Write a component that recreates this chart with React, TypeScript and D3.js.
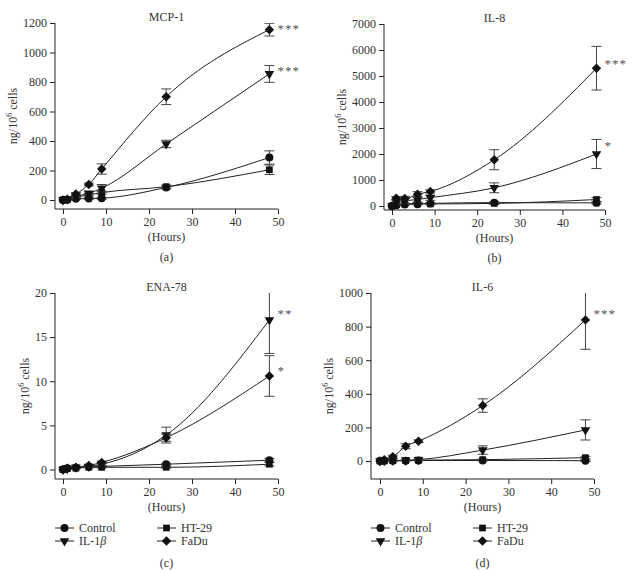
import * as d3 from 'd3';
import React, { useRef, useEffect } from 'react';

// sampling times (hours)
const hours = [0, 1, 3, 6, 9, 24, 48];
const xTicks = [0, 10, 20, 30, 40, 50];
const groups = ["Control", "IL-1", "HT-29", "FaDu"];

// MCP-1
const mcpControl = [0, 2, 8, 10, 12, 85, 288];
const mcpIl1b = [0, 5, 25, 45, 80, 380, 855];
const mcpHt29 = [0, 3, 18, 35, 50, 90, 205];
const mcpFadu = [0, 5, 40, 105, 210, 700, 1155];
const mcpControlErr = [0, 2, 4, 5, 6, 10, 45];
const mcpIl1bErr = [0, 3, 8, 10, 25, 25, 57];
const mcpHt29Err = [0, 2, 5, 8, 10, 12, 32];
const mcpFaduErr = [0, 3, 10, 10, 35, 53, 43];
const mcpTicks = [0, 200, 400, 600, 800, 1000, 1200];

// IL-8
const il8Control = [0, 30, 60, 70, 100, 130, 120];
const il8Il1b = [0, 150, 200, 250, 320, 700, 2000];
const il8Ht29 = [0, 50, 80, 100, 80, 100, 250];
const il8Fadu = [0, 300, 290, 450, 560, 1780, 5300];
const il8ControlErr = [0, 20, 20, 20, 30, 30, 40];
const il8Il1bErr = [0, 80, 100, 100, 100, 190, 560];
const il8Ht29Err = [0, 20, 30, 30, 30, 40, 70];
const il8FaduErr = [0, 60, 80, 100, 60, 385, 840];
const il8Ticks = [0, 1000, 2000, 3000, 4000, 5000, 6000, 7000];

// ENA-78
const enaControl = [0, 0.15, 0.2, 0.3, 0.35, 0.6, 1.05];
const enaIl1b = [0, 0.1, 0.25, 0.35, 0.6, 3.9, 16.95];
const enaHt29 = [0, 0.1, 0.15, 0.25, 0.25, 0.25, 0.6];
const enaFadu = [0, 0.15, 0.25, 0.45, 0.8, 3.6, 10.6];
const enaControlErr = [0, 0.05, 0.05, 0.1, 0.1, 0.1, 0.2];
const enaIl1bErr = [0, 0.05, 0.1, 0.1, 0.15, 0.9, 3.8];
const enaHt29Err = [0, 0.05, 0.05, 0.05, 0.05, 0.1, 0.2];
const enaFaduErr = [0, 0.05, 0.1, 0.1, 0.15, 0.4, 2.3];
const enaTicks = [0, 5, 10, 15, 20];

// IL-6
const il6Control = [0, 1, 1, 2, 3, 3, 2];
const il6Il1b = [0, 2, 3, 4, 8, 65, 185];
const il6Ht29 = [0, 1, 2, 3, 5, 8, 20];
const il6Fadu = [0, 8, 25, 88, 118, 330, 840];
const il6ControlErr = [0, 1, 1, 1, 1, 2, 5];
const il6Il1bErr = [0, 2, 2, 2, 3, 25, 60];
const il6Ht29Err = [0, 1, 1, 1, 2, 3, 8];
const il6FaduErr = [0, 8, 10, 15, 8, 40, 175];
const il6Ticks = [0, 200, 400, 600, 800, 1000];

// significance marks at 48 h: [group index, label]
const mcpStars = [[3, "***"], [1, "***"]];
const il8Stars = [[3, "***"], [1, "*"]];
const enaStars = [[1, "**"], [3, "*"]];
const il6Stars = [[3, "***"]];

const symbols = [d3.symbolCircle, d3.symbolTriangle, d3.symbolSquare, d3.symbolSquare];
const symbolSizes = [50, 40, 45, 45];
const font = "'Liberation Serif', 'DejaVu Serif', serif";
const ink = "#222";

const panels = [
  { title: "MCP-1", tag: "(a)", yMax: 1200, ticks: mcpTicks, stars: mcpStars, starDy: [3, 5],
    values: [mcpControl, mcpIl1b, mcpHt29, mcpFadu], errs: [mcpControlErr, mcpIl1bErr, mcpHt29Err, mcpFaduErr],
    axisX: 55, x0: 63, x50: 278, y0: 200, yTop: 23, axisY: 209, legend: false },
  { title: "IL-8", tag: "(b)", yMax: 7000, ticks: il8Ticks, stars: il8Stars, starDy: [6, 10],
    values: [il8Control, il8Il1b, il8Ht29, il8Fadu], errs: [il8ControlErr, il8Il1bErr, il8Ht29Err, il8FaduErr],
    axisX: 384, x0: 392, x50: 605, y0: 206, yTop: 24, axisY: 210, legend: false },
  { title: "ENA-78", tag: "(c)", yMax: 20, ticks: enaTicks, stars: enaStars, starDy: [8, 7],
    values: [enaControl, enaIl1b, enaHt29, enaFadu], errs: [enaControlErr, enaIl1bErr, enaHt29Err, enaFaduErr],
    axisX: 55, x0: 63, x50: 278, y0: 469.5, yTop: 293, axisY: 479, legend: true },
  { title: "IL-6", tag: "(d)", yMax: 1000, ticks: il6Ticks, stars: il6Stars, starDy: [8],
    values: [il6Control, il6Il1b, il6Ht29, il6Fadu], errs: [il6ControlErr, il6Il1bErr, il6Ht29Err, il6FaduErr],
    axisX: 371, x0: 380, x50: 594, y0: 461, yTop: 293, axisY: 479, legend: true },
];

function drawMarker(g, i, cx, cy) {
  const rot = i === 1 ? " rotate(180)" : i === 3 ? " rotate(45)" : "";
  g.append("path")
    .attr("d", d3.symbol().type(symbols[i]).size(symbolSizes[i])())
    .attr("transform", `translate(${cx},${cy})` + rot)
    .attr("fill", "#111");
}

function addLabel(t, i) {
  t.append("tspan").text(groups[i]);
  if (i === 1) t.append("tspan").attr("font-style", "italic").text("β");
}

function Charts() {
  const ref = useRef(null);

  useEffect(() => {
    const svg = d3.select(ref.current);
    svg.selectAll("*").remove();

    panels.forEach((p, pi) => {
      const x = d3.scaleLinear().domain([0, 50]).range([p.x0, p.x50]);
      const y = d3.scaleLinear().domain([0, p.yMax]).range([p.y0, p.yTop]);
      const g = svg.append("g").attr("font-family", font).attr("fill", "#333");
      const mid = (p.axisX + p.x50) / 2;

      const clipId = "clip" + pi;
      g.append("clipPath").attr("id", clipId)
        .append("rect").attr("x", p.axisX).attr("y", p.yTop)
        .attr("width", p.x50 - p.axisX + 30).attr("height", p.axisY - p.yTop);

      // axes
      const xa = g.append("g").attr("transform", `translate(0,${p.axisY})`)
        .call(d3.axisBottom(x).tickValues(xTicks).tickSize(5).tickSizeOuter(0).tickPadding(3));
      const ya = g.append("g").attr("transform", `translate(${p.axisX},0)`)
        .call(d3.axisLeft(y).tickValues(p.ticks).tickFormat(d3.format("d")).tickSize(5).tickSizeOuter(0).tickPadding(3));
      [xa, ya].forEach(a => {
        a.select(".domain").remove();
        a.selectAll("line").attr("stroke", ink);
        a.selectAll("text").attr("font-family", font).attr("font-size", 12).attr("fill", "#333");
      });
      g.append("line").attr("x1", p.axisX).attr("x2", p.x50).attr("y1", p.axisY).attr("y2", p.axisY).attr("stroke", ink);
      g.append("line").attr("x1", p.axisX).attr("x2", p.axisX).attr("y1", p.axisY).attr("y2", p.yTop).attr("stroke", ink);

      g.append("text").attr("x", mid).attr("y", p.yTop - 2).attr("text-anchor", "middle")
        .attr("font-size", 12).text(p.title);
      g.append("text").attr("x", mid).attr("y", p.axisY + 32).attr("text-anchor", "middle")
        .attr("font-size", 12).text("(Hours)");
      g.append("text").attr("x", mid).attr("y", p.axisY + (p.legend ? 88 : 52)).attr("text-anchor", "middle")
        .attr("font-size", 12).text(p.tag);

      const yl = g.append("text")
        .attr("transform", `translate(${p.axisX - (String(p.yMax).length * 6 + 14)},${(p.yTop + p.axisY) / 2}) rotate(-90)`)
        .attr("text-anchor", "middle").attr("font-size", 12);
      yl.append("tspan").text("ng/10");
      yl.append("tspan").attr("font-size", 8).attr("dy", -5).text("6");
      yl.append("tspan").attr("dy", 5).text(" cells");

      const plot = g.append("g").attr("clip-path", `url(#${clipId})`);
      const line = d3.line().x((d, i) => x(hours[i])).y(d => y(d)).curve(d3.curveMonotoneX);

      [0, 2, 1, 3].forEach(si => {
        const vals = p.values[si];
        const errs = p.errs[si];
        plot.append("path").attr("d", line(vals)).attr("fill", "none").attr("stroke", ink).attr("stroke-width", 1);
        vals.forEach((v, i) => {
          const e = errs[i];
          if (e <= 0) return;
          const cx = x(hours[i]);
          plot.append("line").attr("x1", cx).attr("x2", cx).attr("y1", y(v - e)).attr("y2", y(v + e)).attr("stroke", "#444");
          [v - e, v + e].forEach(b => {
            plot.append("line").attr("x1", cx - 5).attr("x2", cx + 5).attr("y1", y(b)).attr("y2", y(b)).attr("stroke", "#444");
          });
        });
        vals.forEach((v, i) => drawMarker(plot, si, x(hours[i]), y(v)));
      });

      p.stars.forEach(([si, label], k) => {
        const v = p.values[si][hours.length - 1];
        g.append("text").attr("x", x(48) + 8).attr("y", y(v) - p.starDy[k] + 6)
          .attr("font-size", 13).attr("letter-spacing", 1).attr("fill", "#555").text(label);
      });

      if (p.legend) {
        const order = [0, 2, 1, 3];
        order.forEach((si, k) => {
          const col = k % 2, row = Math.floor(k / 2);
          const lx = p.axisX + col * 102;
          const ly = p.axisY + 49 + row * 13;
          g.append("line").attr("x1", lx).attr("x2", lx + 19).attr("y1", ly).attr("y2", ly).attr("stroke", ink);
          drawMarker(g, si, lx + 9.5, ly);
          const t = g.append("text").attr("x", lx + 24).attr("y", ly + 4).attr("font-size", 12);
          addLabel(t, si);
        });
      }
    });
  }, []);

  return (
    <svg ref={ref} width={634} height={571}
      style={{ position: "absolute", left: 0, top: 0, background: "#fff" }} />
  );
}

export default function App() {
  return <Charts />;
}
